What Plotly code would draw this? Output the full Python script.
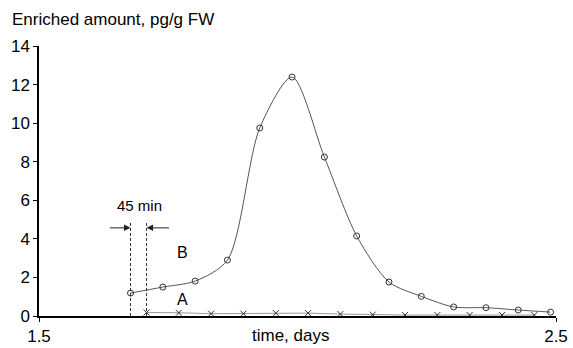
import plotly.graph_objects as go

# Data
b_start = 1.677
step = 0.0625
b_values = [1.19, 1.5, 1.81, 2.9, 9.75, 12.39, 8.24, 4.15, 1.76, 1.02, 0.47, 0.43, 0.31, 0.2]
a_start = 1.708
a_values = [0.18, 0.17, 0.12, 0.12, 0.15, 0.15, 0.1, 0.07, 0.05, 0.05, 0.05, 0.05, 0.05]
b_times = [round(b_start + i * step, 4) for i in range(len(b_values))]
a_times = [round(a_start + i * step, 4) for i in range(len(a_values))]
y_ticks = [0, 2, 4, 6, 8, 10, 12, 14]
x_ticks = [1.5, 2.5]

FONT = "Arial, Liberation Sans, sans-serif"
W, H = 573, 348
L, R, T, B = 39, 17, 46, 32
PW, PH = W - L - R, H - T - B

fig = go.Figure()
fig.add_trace(go.Scatter(
    x=b_times, y=b_values, mode="lines+markers", line=dict(color="#555555", width=1, shape="spline", smoothing=0.8),
    marker=dict(symbol="circle-open", size=6, color="#333333", line=dict(width=1)), name="B"))
fig.add_trace(go.Scatter(
    x=a_times, y=a_values, mode="lines+markers", line=dict(color="#999999", width=1),
    marker=dict(symbol="x-thin-open", size=6, color="#333333", line=dict(width=1, color="#333333")), name="A"))

# dashed markers of the 45 min offset
for xv in (b_times[0], a_times[0]):
    fig.add_shape(type="line", x0=xv, x1=xv, y0=0, y1=4.9, xref="x", yref="y",
                  line=dict(color="#333333", width=1, dash="3px,2px"))

fig.add_annotation(x=b_times[0], y=4.57, ax=-22, ay=0, showarrow=True, arrowhead=2, arrowsize=1.3,
                   arrowwidth=1, arrowcolor="#222222", text="")
fig.add_annotation(x=a_times[0], y=4.57, ax=24, ay=0, showarrow=True, arrowhead=2, arrowsize=1.3,
                   arrowwidth=1, arrowcolor="#222222", text="")
fig.add_annotation(x=1.695, y=5.75, text="45 min", showarrow=False, font=dict(size=15, color="black", family=FONT))
fig.add_annotation(x=1.777, y=3.27, text="B", showarrow=False, font=dict(size=16, color="black", family=FONT))
fig.add_annotation(x=1.777, y=0.83, text="A", showarrow=False, font=dict(size=16, color="black", family=FONT))

fig.add_annotation(x=(10 - L) / PW, y=1 + (T - 20) / PH, xref="paper", yref="paper",
                   text="Enriched amount, pg/g FW", showarrow=False,
                   xanchor="left", yanchor="middle", font=dict(size=17, color="black", family=FONT))
fig.add_annotation(x=(290 - L) / PW, y=-(336 - (T + PH)) / PH, xref="paper", yref="paper",
                   text="time, days", showarrow=False,
                   xanchor="center", yanchor="middle", font=dict(size=17, color="black", family=FONT))

fig.update_layout(
    width=W, height=H, margin=dict(l=L, r=R, t=T, b=B, autoexpand=False),
    paper_bgcolor="white", plot_bgcolor="white", showlegend=False,
    font=dict(family=FONT, size=16, color="black"),
    xaxis=dict(range=[1.5, 2.5], tickvals=x_ticks, ticktext=["1.5", "2.5"], showgrid=False, zeroline=False,
               showline=True, linecolor="black", linewidth=2, ticks="outside", ticklen=4, tickcolor="black",
               tickfont=dict(size=17), automargin=False),
    yaxis=dict(range=[0, 14], tickvals=y_ticks, showgrid=False, zeroline=False, showline=True, linecolor="black",
               linewidth=1.5, ticks="outside", ticklen=4, tickcolor="black", tickfont=dict(size=17),
               automargin=False),
)

fig.write_html("out.html", config={"displayModeBar": False},
               post_script="document.body.style.margin='0';document.body.style.overflow='hidden';")
